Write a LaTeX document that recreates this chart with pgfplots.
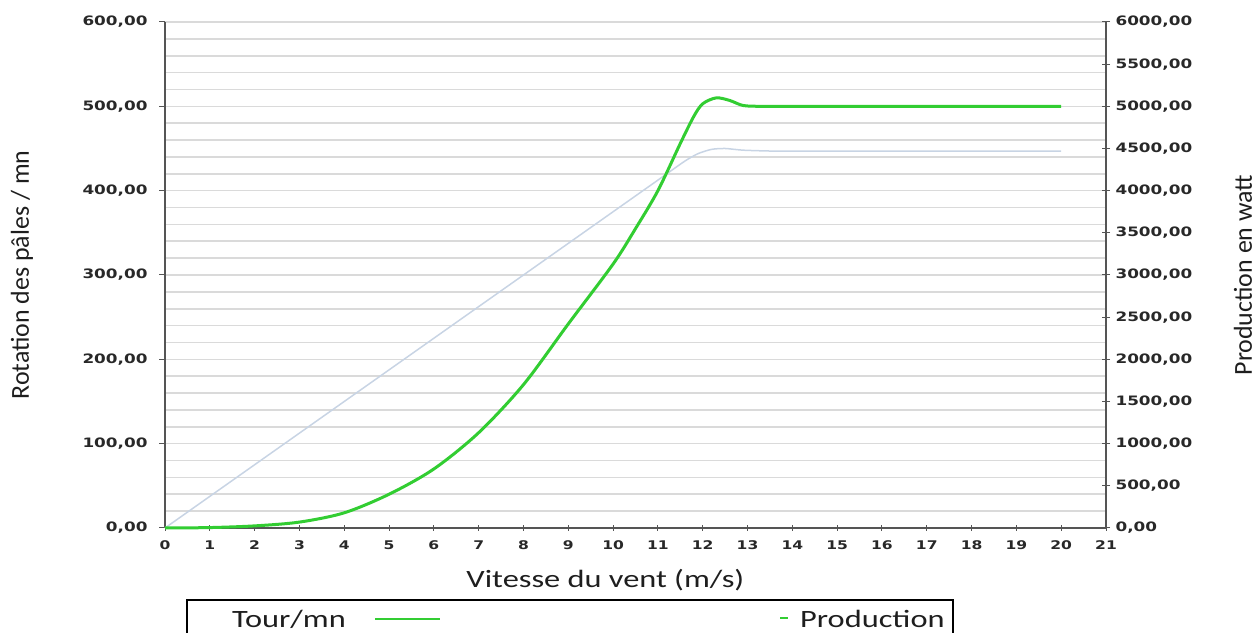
\documentclass[border=0pt]{standalone}
\usepackage{fontspec}
\setmainfont{Carlito}[FakeStretch=1.3]
\newfontfamily\vfont{Carlito}
\newfontfamily\tickfont{DejaVu Sans}[FakeStretch=1.3]
\usepackage{pgfplots}
\pgfplotsset{compat=1.18}
\definecolor{gridc}{RGB}{218,218,218}
\definecolor{axc}{RGB}{85,85,85}
\definecolor{tickc}{RGB}{40,40,40}
\definecolor{tourc}{RGB}{200,212,228}
\definecolor{prodc}{RGB}{50,205,50}
\definecolor{txtc}{RGB}{30,30,30}
\begin{document}
\begin{tikzpicture}[x=1bp,y=1bp]
\path[use as bounding box] (0,0) rectangle (1257,633);
\begin{axis}[
  scale only axis, width=941bp, height=506bp,
  at={(165bp,105bp)}, anchor=south west,
  xmin=0, xmax=21, ymin=0, ymax=600,
  axis x line*=bottom, axis y line*=left,
  axis line style={axc, line width=1.6bp},
  xtick={0,...,21}, ytick={0,100,...,600},
  minor ytick={20,40,...,580},
  ymajorgrids, yminorgrids,
  major grid style={gridc, line width=1.6bp},
  minor grid style={gridc, line width=1.6bp},
  minor tick length=0pt,
  major tick length=6bp,
  xtick align=center, ytick align=outside,
  tick style={axc, line width=1bp},
  /pgf/number format/assume math mode=true,
  xticklabel style={font=\tickfont\bfseries\fontsize{12}{14}\selectfont, text=tickc, yshift=-6bp},
  yticklabel style={font=\tickfont\bfseries\fontsize{13}{15}\selectfont, text=tickc, xshift=-8bp,
    /pgf/number format/.cd, fixed, fixed zerofill, precision=2, use comma, 1000 sep={}},
  every axis y label/.style={at={(axis description cs:-0.152,0.5)}, rotate=90, anchor=center},
  ylabel={\vfont\fontsize{26}{30}\selectfont Rotation des pâles / mn},
  every axis x label/.style={at={(axis description cs:0.468,-0.103)}, anchor=center},
  xlabel={\fontsize{25}{30}\selectfont Vitesse du vent (m/s)},
  label style={text=txtc},
  clip=false,
]
\addplot[tourc, line width=1.5bp, smooth, tension=0.4] coordinates {
(0,0) (1,37.5) (2,75) (3,112.5) (4,150) (5,187.5) (6,225) (7,262.5) (8,300) (9,337.5)
(10,375) (11,412.5) (11.6,435) (11.9,444) (12.2,449) (12.5,450) (12.9,448) (13.5,447)
(14,447) (15,447) (16,447) (17,447) (18,447) (19,447) (20,447)};
\end{axis}
\begin{axis}[
  scale only axis, width=941bp, height=506bp,
  at={(165bp,105bp)}, anchor=south west,
  xmin=0, xmax=21, ymin=0, ymax=6000,
  axis x line=none, axis y line*=right,
  axis line style={axc, line width=1.6bp},
  ytick={0,500,...,6000},
  major tick length=8bp,
  ytick align=center,
  tick style={axc, line width=1bp},
  /pgf/number format/assume math mode=true,
  yticklabel style={font=\tickfont\bfseries\fontsize{13}{15}\selectfont, text=tickc, xshift=2bp,
    /pgf/number format/.cd, fixed, fixed zerofill, precision=2, use comma, 1000 sep={}},
  every axis y label/.style={at={(axis description cs:1.1456,0.5)}, rotate=90, anchor=center},
  ylabel={\vfont\fontsize{26}{30}\selectfont Production en watt},
  label style={text=txtc},
  clip=false,
]
\addplot[prodc, line width=3bp, smooth, tension=0.5] coordinates {
(0,0) (1,5) (2,25) (3,70) (4,180) (5,400) (6,700) (7,1130) (8,1700) (9,2420)
(10,3130) (10.5,3550) (11,4000) (11.5,4560) (11.8,4880) (12,5030) (12.3,5100)
(12.6,5070) (12.9,5010) (13.3,5000) (14,5000) (15,5000) (16,5000) (17,5000)
(18,5000) (19,5000) (20,5000)};
\end{axis}
\draw[black, line width=1.2bp] (187,-20) rectangle (953,33);
\node[anchor=west, text=txtc, font=\fontsize{25}{30}\selectfont, inner sep=0pt] at (232,14) {Tour/mn};
\draw[prodc, line width=1.5bp] (375,14) -- (440,14);
\draw[prodc, line width=2bp] (780,15) -- (788,15);
\node[anchor=west, text=txtc, font=\fontsize{25}{30}\selectfont, inner sep=0pt] at (800,14) {Production};
\end{tikzpicture}
\end{document}
